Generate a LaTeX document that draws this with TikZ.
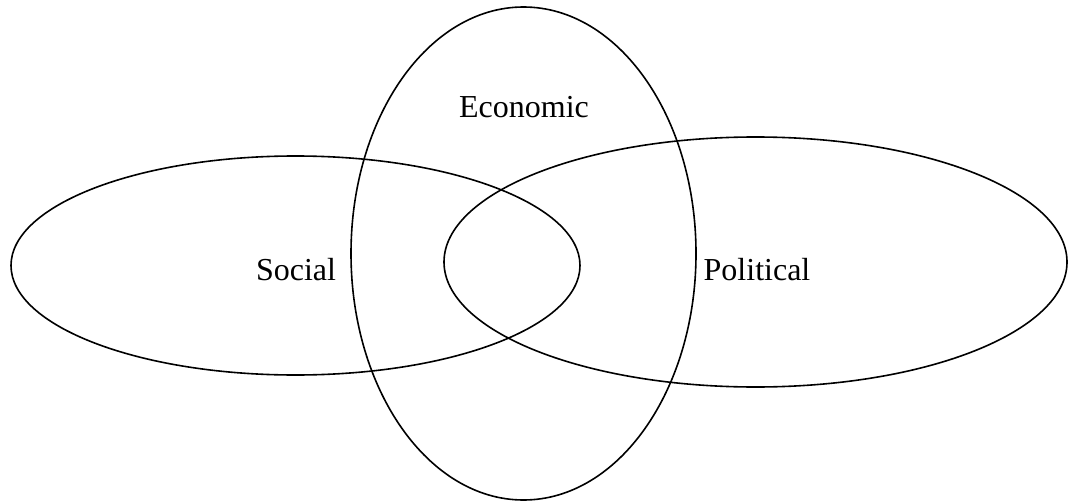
\documentclass[tikz,border=0pt]{standalone}
\usepackage{fontspec}
\setmainfont{Liberation Serif}
\usepackage{xcolor}
\usepackage{tikz}

\begin{document}
\begin{tikzpicture}[x=0.5pt,y=-0.5pt,font=\fontsize{16}{19}\selectfont,
    sphere/.style={draw=black,line width=0.8pt}]
	\useasboundingbox (0,0) rectangle (1069,502);
	\draw [sphere] (295.5,265.5) ellipse [x radius=284.5,y radius=109.5];
	\draw [sphere] (755.5,262) ellipse [x radius=311.5,y radius=125];
	\draw [sphere] (523.5,253.5) ellipse [x radius=172.5,y radius=246.5];
	\node (economic) at (524,107) {Economic};
	\node (social) at (296,270) {Social};
	\node (political) at (757,270) {Political};
\end{tikzpicture}
\end{document}
